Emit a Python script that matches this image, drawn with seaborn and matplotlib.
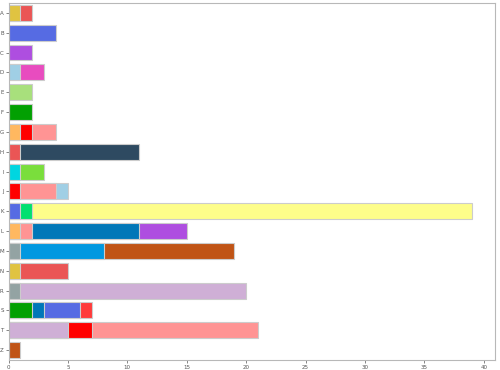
import numpy as np
import pandas as pd
import matplotlib
matplotlib.use("Agg")
import matplotlib.pyplot as plt
import seaborn as sns

# --- data ---
categories = ["A", "B", "C", "D", "E", "F", "G", "H", "I", "J",
              "K", "L", "M", "N", "R", "S", "T", "Z"]

segment_values = [
    [1, 1],          # A
    [4],             # B
    [2],             # C
    [1, 2],          # D
    [2],             # E
    [2],             # F
    [1, 1, 2],       # G
    [1, 10],         # H
    [1, 2],          # I
    [1, 3, 1],       # J
    [1, 1, 37],      # K
    [1, 1, 9, 4],    # L
    [1, 7, 11],      # M
    [1, 4],          # N
    [1, 19],         # R
    [2, 1, 3, 1],    # S
    [5, 2, 14],      # T
    [1],             # Z
]

segment_colors = [
    ["#e0c341", "#ea5555"],
    ["#566be3"],
    ["#ae4ee0"],
    ["#a0cfe5", "#e84cbf"],
    ["#a8e07c"],
    ["#02a002"],
    ["#ffb860", "#ff0000", "#ff9494"],
    ["#ea5555", "#2e4a61"],
    ["#00d6e0", "#7ade3c"],
    ["#ff0000", "#ff9494", "#a0cfe5"],
    ["#566be3", "#00e070", "#fdfd8a"],
    ["#ffb860", "#ff9494", "#0077b8", "#ae4ee0"],
    ["#93a3a3", "#0098e0", "#c05416"],
    ["#e0c341", "#ea5555"],
    ["#93a3a3", "#cfafd6"],
    ["#02a002", "#0077b8", "#566be3", "#ff3b3b"],
    ["#cfafd6", "#ff0000", "#ff9494"],
    ["#c05416"],
]

# long-form table: one row per stacked segment, with its cumulative end
rows = []
for cat, vals, cols in zip(categories, segment_values, segment_colors):
    ends = np.cumsum(vals)
    for k, (end, col) in enumerate(zip(ends, cols)):
        rows.append({"cat": cat, "layer": k, "end": end, "color": col})
df = pd.DataFrame(rows)

sns.set_style("ticks")
fig = plt.figure(figsize=(5, 3.7), dpi=100)
ax = fig.add_axes([0.017, 0.027, 0.973, 0.965])

# stack by overdrawing cumulative totals, outermost segment first
for k in sorted(df["layer"].unique(), reverse=True):
    layer = df[df["layer"] == k]
    pal = dict(zip(layer["cat"], layer["color"]))
    sns.barplot(data=layer, x="end", y="cat", order=categories, hue="cat",
                palette=pal, legend=False, errorbar=None, orient="h",
                edgecolor="#cccccc", linewidth=0.8, saturation=1, ax=ax)

ax.set_xlim(0, 40.95)
ax.set_xticks([0, 5, 10, 15, 20, 25, 30, 35, 40])
ax.set_xlabel("")
ax.set_ylabel("")
ax.tick_params(labelsize=4, length=2, width=0.5, pad=1.5, colors="#555555")
for side in ["top", "right", "left", "bottom"]:
    ax.spines[side].set_visible(True)
    ax.spines[side].set_color("#b8b8b8")
    ax.spines[side].set_linewidth(0.8)

fig.savefig("out.png", dpi=100)
